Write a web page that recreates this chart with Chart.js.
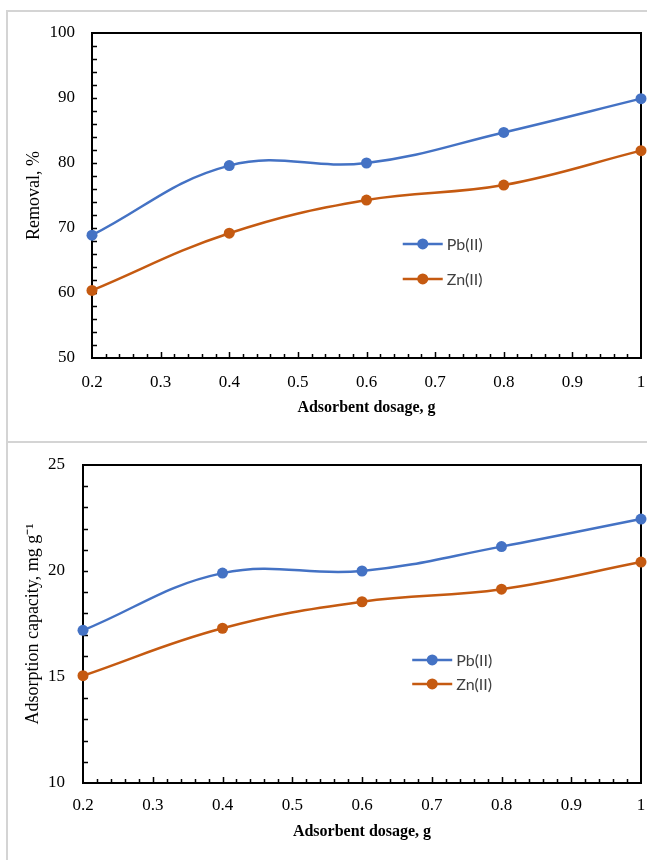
<!DOCTYPE html>
<html><head><meta charset="utf-8">
<script src="https://cdn.jsdelivr.net/npm/chart.js@4.4.1/dist/chart.umd.min.js"></script>
<style>
html,body{margin:0;padding:0;background:#fff;width:647px;height:860px;overflow:hidden;}
.panel{position:absolute;left:6px;border-left:2px solid #d4d4d4;border-top:2px solid #d4d4d4;width:700px;}
#p1{top:10px;height:430px;}
#p2{top:441px;height:430px;}
canvas{position:absolute;left:0;}
#c1{top:0;width:647px;height:442px;}
#c2{top:442px;width:647px;height:418px;}
</style></head>
<body>
<div class="panel" id="p1"></div><div class="panel" id="p2"></div>
<canvas id="c1" width="647" height="442"></canvas>
<canvas id="c2" width="647" height="418"></canvas>
<script>
// ---- data ----
const dosage = [0.2, 0.4, 0.6, 0.8, 1.0];
const seriesNames = ['Pb(II)', 'Zn(II)'];
const removalPb = [68.9, 79.6, 80.0, 84.7, 89.9];
const removalZn = [60.4, 69.2, 74.3, 76.6, 81.9];
const capacityPb = [17.2, 19.9, 20.0, 21.15, 22.45];
const capacityZn = [15.06, 17.3, 18.55, 19.14, 20.42];
const xTitle = 'Adsorbent dosage, g';
const yTitleTop = 'Removal, %';
const yTitleBottom = 'Adsorption capacity, mg g\u207B\u00B9';

const BLUE = '#4472C4';
const ORANGE = '#C55A11';
const SERIF = '"Liberation Serif", "Times New Roman", serif';

const frameTicks = {
  id: 'frameTicks',
  beforeDatasetsDraw(chart, args, o) {
    const ctx = chart.ctx, a = chart.chartArea;
    const xs = chart.scales.x, ys = chart.scales.y;
    ctx.save();
    ctx.strokeStyle = '#000';
    ctx.lineWidth = 2;
    ctx.strokeRect(a.left, a.top, a.right - a.left, a.bottom - a.top);
    ctx.lineWidth = 1.5;
    ctx.beginPath();
    const nx = Math.round((xs.max - xs.min) / o.xMinor);
    for (let i = 1; i < nx; i++) {
      const v = xs.min + i * o.xMinor;
      const r = v / o.xMajor;
      const major = Math.abs(r - Math.round(r)) < 1e-6;
      const px = Math.round(xs.getPixelForValue(v)) + 0.5;
      ctx.moveTo(px, a.bottom);
      ctx.lineTo(px, a.bottom - (major ? 6 : 4));
    }
    const ny = Math.round((ys.max - ys.min) / o.yMinor);
    for (let i = 1; i < ny; i++) {
      const v = ys.min + i * o.yMinor;
      const py = Math.round(ys.getPixelForValue(v)) + 0.5;
      ctx.moveTo(a.left, py);
      ctx.lineTo(a.left + 5, py);
    }
    ctx.stroke();
    ctx.restore();
  }
};

const inLegend = {
  id: 'inLegend',
  afterDraw(chart, args, o) {
    const ctx = chart.ctx, a = chart.chartArea;
    ctx.save();
    chart.data.datasets.forEach((ds, i) => {
      const x = a.left + o.x * (a.right - a.left);
      const y = a.top + o.y * (a.bottom - a.top) + i * o.gap;
      ctx.strokeStyle = ds.borderColor;
      ctx.lineWidth = 2.5;
      ctx.beginPath();
      ctx.moveTo(x, y); ctx.lineTo(x + 40, y);
      ctx.stroke();
      ctx.fillStyle = ds.backgroundColor;
      ctx.beginPath();
      ctx.arc(x + 20, y, 5.5, 0, Math.PI * 2);
      ctx.fill();
      ctx.fillStyle = '#404040';
      ctx.font = '16px Lato, "Open Sans", sans-serif';
      ctx.textBaseline = 'middle';
      ctx.textAlign = 'left';
      ctx.fillText(ds.label, x + 44, y + 1);
    });
    ctx.restore();
  }
};

function makeChart(id, c) {
  const mk = (label, vals, col) => ({
    label, data: dosage.map((x, i) => ({x, y: vals[i]})),
    borderColor: col, backgroundColor: col, borderWidth: 2.5,
    pointRadius: 5.5, pointBorderWidth: 0, pointBackgroundColor: col,
    tension: 0.4, clip: false
  });
  return new Chart(document.getElementById(id), {
    type: 'line',
    data: { datasets: [mk(seriesNames[0], c.pb, BLUE), mk(seriesNames[1], c.zn, ORANGE)] },
    options: {
      responsive: false, animation: false, events: [],
      layout: { padding: { left: 0, right: 6, top: c.padTop, bottom: 0 } },
      plugins: {
        legend: { display: false }, tooltip: { enabled: false },
        frameTicks: { xMinor: 0.02, xMajor: 0.1, yMinor: c.yMinor },
        inLegend: c.legend
      },
      scales: {
        x: {
          type: 'linear', min: 0.2, max: 1,
          ticks: { stepSize: 0.1, autoSkip: false, maxRotation: 0, padding: c.xTickPad,
            color: '#000', font: { family: SERIF, size: 17 },
            callback: v => String(Number(v.toFixed(1))) },
          grid: { display: false, drawTicks: false }, border: { display: false },
          title: { display: true, text: xTitle, color: '#000',
            font: { family: SERIF, size: 16, weight: 'bold' }, padding: { top: 0, bottom: c.xTitlePad } },
          afterFit(s) { s.height = c.xHeight; s.paddingLeft = 0; s.paddingRight = 0; }
        },
        y: {
          type: 'linear', min: c.yMin, max: c.yMax,
          ticks: { stepSize: c.yStep, padding: c.yTickPad, color: '#000', font: { family: SERIF, size: 17 } },
          grid: { display: false, drawTicks: false }, border: { display: false },
          title: { display: true, text: c.yTitle, color: '#000',
            font: { family: SERIF, size: 18 }, padding: { top: c.yTitlePad, bottom: 0 } },
          afterFit(s) { s.width = c.yWidth; s.paddingTop = 0; s.paddingBottom = 0; }
        }
      }
    },
    plugins: [frameTicks, inLegend]
  });
}

makeChart('c1', {
  pb: removalPb, zn: removalZn, yMin: 50, yMax: 100, yStep: 10, yMinor: 2,
  yTitle: yTitleTop, padTop: 33, yWidth: 92, yTickPad: 17, yTitlePad: 23,
  xHeight: 84, xTickPad: 14, xTitlePad: 25,
  legend: { x: 0.566, y: 0.649, gap: 35 }
});
makeChart('c2', {
  pb: capacityPb, zn: capacityZn, yMin: 10, yMax: 25, yStep: 5, yMinor: 1,
  yTitle: yTitleBottom, padTop: 23, yWidth: 83, yTickPad: 18, yTitlePad: 22,
  xHeight: 77, xTickPad: 12, xTitlePad: 19,
  legend: { x: 0.59, y: 0.613, gap: 24 }
});
</script>
</body></html>
